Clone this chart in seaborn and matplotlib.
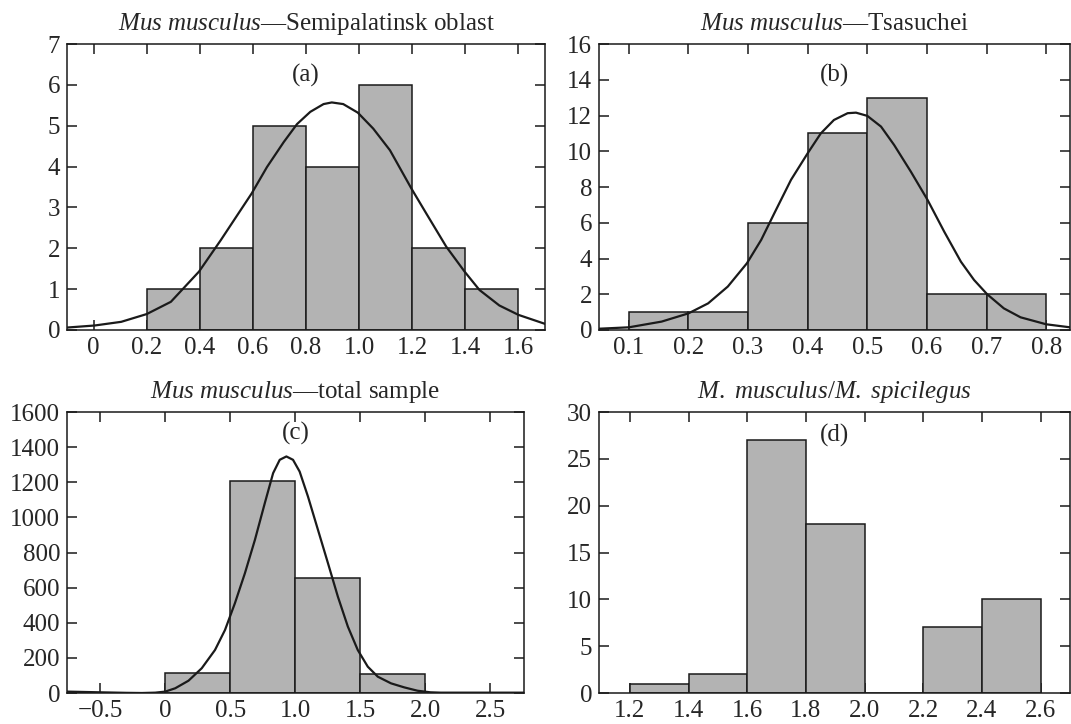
#four histograms of the tail index with fitted curves
import numpy as np
import pandas as pd
import matplotlib
matplotlib.use('Agg')
import matplotlib.pyplot as plt
import seaborn as sns

#(a) Semipalatinsk oblast
edges_a = [0.2, 0.4, 0.6, 0.8, 1.0, 1.2, 1.4, 1.6]
counts_a = [1, 2, 5, 4, 6, 2, 1]
curve_a_x = [-0.1, 0.004, 0.104, 0.2, 0.291, 0.397, 0.479, 0.541, 0.595, 0.653, 0.716, 0.766,
             0.816, 0.866, 0.897, 0.94, 0.995, 1.053, 1.116, 1.197, 1.253, 1.328, 1.397,
             1.453, 1.528, 1.6, 1.7]
curve_a_y = [0.06, 0.11, 0.2, 0.39, 0.69, 1.43, 2.2, 2.81, 3.34, 3.99, 4.6, 5.04,
             5.34, 5.53, 5.57, 5.53, 5.32, 4.93, 4.4, 3.46, 2.85, 2.04, 1.43,
             0.98, 0.6, 0.37, 0.15]

#(b) Tsasuchei
edges_b = [0.1, 0.2, 0.3, 0.4, 0.5, 0.6, 0.7, 0.8]
counts_b = [1, 1, 6, 11, 13, 2, 2]
curve_b_x = [0.049, 0.1, 0.155, 0.2, 0.233, 0.266, 0.298, 0.322, 0.344, 0.372, 0.4, 0.422,
             0.444, 0.467, 0.481, 0.5, 0.523, 0.545, 0.573, 0.601, 0.629, 0.657, 0.679,
             0.701, 0.729, 0.757, 0.8, 0.84]
curve_b_y = [0.07, 0.15, 0.47, 0.93, 1.49, 2.43, 3.73, 5.04, 6.53, 8.4, 9.89, 11.0,
             11.75, 12.13, 12.16, 11.98, 11.38, 10.35, 8.86, 7.28, 5.5, 3.82, 2.8,
             2.0, 1.21, 0.71, 0.32, 0.15]

#(c) total sample
edges_c = [0.0, 0.5, 1.0, 1.5, 2.0]
counts_c = [114, 1210, 656, 110]
curve_c_x = [-0.755, -0.5, -0.3, -0.179, -0.077, 0.0, 0.077, 0.179, 0.281, 0.383, 0.46,
             0.536, 0.613, 0.69, 0.766, 0.83, 0.881, 0.932, 0.983, 1.034, 1.098, 1.175,
             1.252, 1.328, 1.405, 1.481, 1.558, 1.635, 1.737, 1.839, 1.941, 2.04, 2.12,
             2.4, 2.76]
curve_c_y = [8, 4, 1, 0, 2, 8, 27, 70, 141, 245, 359,
             511, 682, 872, 1081, 1252, 1328, 1347, 1328, 1261, 1119, 929,
             739, 549, 378, 245, 150, 93, 55, 32, 13, 4, 2,
             2, 2]

#(d) M. musculus / M. spicilegus
edges_d = [1.2, 1.4, 1.6, 1.8, 2.0, 2.2, 2.4, 2.6]
counts_d = [1, 2, 27, 18, 0, 7, 10]

titles = [r'$\it{Mus\ musculus}$—Semipalatinsk oblast',
          r'$\it{Mus\ musculus}$—Tsasuchei',
          r'$\it{Mus\ musculus}$—total sample',
          r'$\it{M.\ musculus/M.\ spicilegus}$']
letters = ['(a)', '(b)', '(c)', '(d)']

sns.set_theme(style='ticks')
plt.rcParams['font.family'] = ['Liberation Serif', 'DejaVu Serif']
plt.rcParams['mathtext.fontset'] = 'custom'
plt.rcParams['mathtext.rm'] = 'Liberation Serif'
plt.rcParams['mathtext.it'] = 'Liberation Serif:italic'
plt.rcParams['axes.unicode_minus'] = True

fig = plt.figure(figsize=(10.71, 7.24), dpi=100)
ax_a = fig.add_axes([0.0626, 0.5442, 0.4463, 0.395])
ax_b = fig.add_axes([0.5593, 0.5442, 0.4398, 0.395])
ax_c = fig.add_axes([0.0626, 0.0428, 0.4267, 0.3881])
ax_d = fig.add_axes([0.5593, 0.0428, 0.4398, 0.3881])

def drawHist(ax, edges, counts):
    centers = [(edges[i] + edges[i + 1]) / 2 for i in range(len(counts))]
    df = pd.DataFrame({'x': centers, 'w': counts})
    sns.histplot(data=df, x='x', weights='w', bins=edges, ax=ax, color='#b3b3b3',
                 edgecolor='#1a1a1a', linewidth=1.1, alpha=1)

drawHist(ax_a, edges_a, counts_a)
sns.lineplot(x=curve_a_x, y=curve_a_y, ax=ax_a, color='k', lw=1.6, sort=False)
drawHist(ax_b, edges_b, counts_b)
sns.lineplot(x=curve_b_x, y=curve_b_y, ax=ax_b, color='k', lw=1.6, sort=False)
drawHist(ax_c, edges_c, counts_c)
sns.lineplot(x=curve_c_x, y=curve_c_y, ax=ax_c, color='k', lw=1.6, sort=False)
drawHist(ax_d, edges_d, counts_d)

ax_a.set_xlim(-0.1, 1.7)
ax_a.set_ylim(0, 7)
ax_a.set_xticks(np.arange(0, 1.61, 0.2))
ax_a.set_xticklabels(['0', '0.2', '0.4', '0.6', '0.8', '1.0', '1.2', '1.4', '1.6'])
ax_a.set_yticks(range(0, 8))

ax_b.set_xlim(0.05, 0.84)
ax_b.set_ylim(0, 16)
ax_b.set_xticks(np.arange(0.1, 0.81, 0.1))
ax_b.set_xticklabels(['0.1', '0.2', '0.3', '0.4', '0.5', '0.6', '0.7', '0.8'])
ax_b.set_yticks(range(0, 17, 2))

ax_c.set_xlim(-0.755, 2.76)
ax_c.set_ylim(0, 1600)
ax_c.set_xticks(np.arange(-0.5, 2.51, 0.5))
ax_c.set_xticklabels(['\u22120.5', '0', '0.5', '1.0', '1.5', '2.0', '2.5'])
ax_c.set_yticks(range(0, 1601, 200))

ax_d.set_xlim(1.095, 2.7)
ax_d.set_ylim(0, 30)
ax_d.set_xticks(np.arange(1.2, 2.61, 0.2))
ax_d.set_xticklabels(['1.2', '1.4', '1.6', '1.8', '2.0', '2.2', '2.4', '2.6'])
ax_d.set_yticks(range(0, 31, 5))

letter_y = [0.89, 0.89, 0.925, 0.918]
for ax, t, l, ly in zip([ax_a, ax_b, ax_c, ax_d], titles, letters, letter_y):
    ax.set_xlabel('')
    ax.set_ylabel('')
    ax.set_title(t, fontsize=18, pad=10)
    ax.text(0.5, ly, l, transform=ax.transAxes, ha='center', va='center', fontsize=18)
    ax.tick_params(direction='in', top=True, right=True, length=7, width=1.1,
                   labelsize=18, pad=5, color='#1a1a1a')
    for s in ax.spines.values():
        s.set_linewidth(1.1)
        s.set_color('#1a1a1a')

fig.savefig('out.png', dpi=100)
